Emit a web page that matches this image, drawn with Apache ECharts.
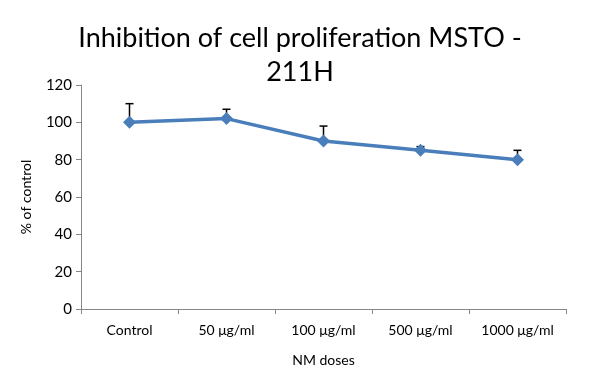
<!DOCTYPE html>
<html><head><meta charset="utf-8">
<script src="https://cdn.jsdelivr.net/npm/echarts@6/dist/echarts.min.js"></script>
<style>html,body{margin:0;padding:0;background:#fff}#c{width:600px;height:379px}</style>
</head><body><div id="c"></div>
<script>
const categories = ['Control', '50 μg/ml', '100 μg/ml', '500 μg/ml', '1000 μg/ml'];
const values = [100, 102, 90, 85, 80];
const errorsUp = [10, 5, 8, 2, 5];
const yTicks = [0, 20, 40, 60, 80, 100, 120];

const font = 'Lato';
const chart = echarts.init(document.getElementById('c'));
chart.setOption({
  animation: false,
  title: {
    text: 'Inhibi\u200Ction of cell prolifera\u200Ction MSTO -\n211H',
    left: 'center', top: 16,
    textStyle: { fontFamily: 'Lato', fontSize: 27, fontWeight: 'normal', color: '#000', lineHeight: 34 }
  },
  grid: { left: 81, right: 34, top: 85, bottom: 70 },
  xAxis: {
    type: 'category', data: categories, boundaryGap: true,
    name: 'NM doses', nameLocation: 'middle', nameGap: 44,
    nameTextStyle: { fontFamily: font, fontSize: 14, color: '#000' },
    axisLine: { lineStyle: { color: '#868686', width: 1 } },
    axisTick: { show: true, length: 5, alignWithLabel: false, lineStyle: { color: '#868686' } },
    axisLabel: { fontFamily: font, fontSize: 14, color: '#000', margin: 14 }
  },
  yAxis: {
    type: 'value', min: yTicks[0], max: yTicks[yTicks.length - 1], interval: 20,
    name: '% of control', nameLocation: 'middle', nameGap: 48,
    nameTextStyle: { fontFamily: font, fontSize: 14, color: '#000' },
    axisLine: { show: true, lineStyle: { color: '#868686', width: 1 } },
    axisTick: { show: true, length: 5, lineStyle: { color: '#868686' } },
    splitLine: { show: false },
    axisLabel: { fontFamily: font, fontSize: 15, color: '#000', margin: 9 }
  },
  series: [
    {
      type: 'custom', z: 1,
      data: values.map((v, i) => [i, v, v + errorsUp[i]]),
      renderItem: function (params, api) {
        const base = api.coord([api.value(0), api.value(1)]);
        const top = api.coord([api.value(0), api.value(2)]);
        const style = { stroke: '#000', lineWidth: 1.5 };
        return {
          type: 'group', children: [
            { type: 'line', shape: { x1: base[0], y1: base[1], x2: top[0], y2: top[1] }, style: style },
            { type: 'line', shape: { x1: top[0] - 4, y1: top[1], x2: top[0] + 4, y2: top[1] }, style: style }
          ]
        };
      }
    },
    {
      type: 'line', z: 3, data: values,
      symbol: 'diamond', symbolSize: 13,
      lineStyle: { color: '#4a7ebb', width: 3.5 },
      itemStyle: { color: '#4a7ebb' }
    }
  ]
});
</script></body></html>
